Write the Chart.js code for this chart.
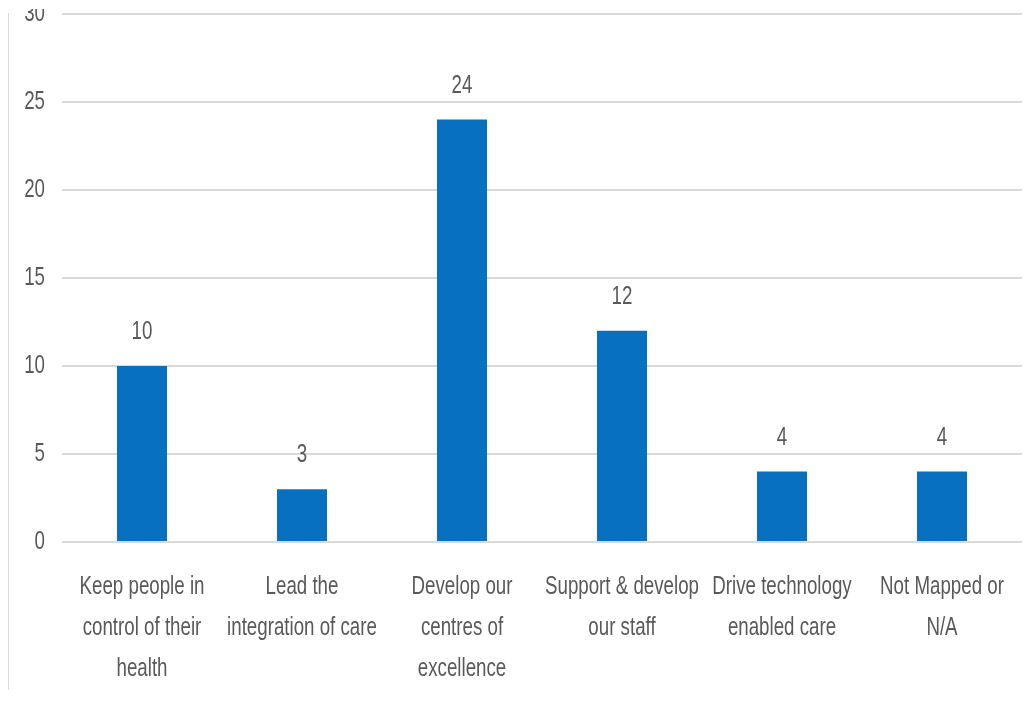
<!DOCTYPE html>
<html>
<head>
<meta charset="utf-8">
<script src="https://cdn.jsdelivr.net/npm/chart.js@4/dist/chart.umd.min.js"></script>
<style>
  html, body { margin: 0; padding: 0; background: #fff; overflow: hidden; }
  #frame { position: absolute; left: 8px; top: 13px; width: 1px; height: 677px; background: #d9d9d9; }
  #plot { position: absolute; left: 0; top: -20px; }
  #topband { position: absolute; left: 0; top: 0; width: 1035px; height: 9px; background: #fff; }
</style>
</head>
<body>
<div id="frame"></div>
<canvas id="plot" width="1035" height="730"></canvas>
<div id="topband"></div>
<script>
const categories = [
  ['Keep people in', 'control of their', 'health'],
  ['Lead the', 'integration of care'],
  ['Develop our', 'centres of', 'excellence'],
  ['Support & develop', 'our staff'],
  ['Drive technology', 'enabled care'],
  ['Not Mapped or', 'N/A']
];
const counts = [10, 3, 24, 12, 4, 4];
const yTicks = [0, 5, 10, 15, 20, 25, 30];

const FONT = "'Liberation Sans', Arial, sans-serif";
const GREY = '#595959';
const SQUEEZE = 0.72;   // condensed look for every label

function narrowText(ctx, text, x, y, align) {
  ctx.save();
  ctx.translate(x, y);
  ctx.scale(SQUEEZE, 1);
  ctx.textAlign = align;
  ctx.fillText(text, 0, 0);
  ctx.restore();
}

// axis labels and value labels, drawn condensed
const narrowLabels = {
  id: 'narrowLabels',
  afterDraw(chart) {
    const { ctx, scales: { x, y } } = chart;
    ctx.save();
    ctx.font = `26px ${FONT}`;
    ctx.fillStyle = GREY;
    ctx.textBaseline = 'middle';

    yTicks.forEach(v => {
      narrowText(ctx, String(v), 45, y.getPixelForValue(v), 'right');
    });

    categories.forEach((lines, i) => {
      const cx = x.getPixelForValue(i);
      lines.forEach((line, k) => {
        narrowText(ctx, line, cx, y.bottom + 45 + k * 41, 'center');
      });
    });

    chart.getDatasetMeta(0).data.forEach((bar, i) => {
      narrowText(ctx, String(counts[i]), bar.x, bar.y - 34, 'center');
    });
    ctx.restore();
  }
};

new Chart(document.getElementById('plot').getContext('2d'), {
  type: 'bar',
  data: {
    labels: categories,
    datasets: [{
      data: counts,
      backgroundColor: '#0870c1',
      borderWidth: 0,
      barPercentage: 0.625,
      categoryPercentage: 0.5
    }]
  },
  options: {
    responsive: false,
    animation: false,
    layout: { padding: { top: 34, right: 13, left: 0, bottom: 0 } },
    plugins: { legend: { display: false }, tooltip: { enabled: false } },
    scales: {
      x: {
        grid: { display: false, drawTicks: false },
        border: { display: false },
        ticks: { display: false },
        afterFit(scale) { scale.height = 168; }
      },
      y: {
        min: 0,
        max: 30,
        afterBuildTicks(scale) { scale.ticks = yTicks.map(v => ({ value: v })); },
        grid: { color: '#d9d9d9', lineWidth: 2, drawTicks: false },
        border: { display: false },
        ticks: { display: false },
        afterFit(scale) { scale.width = 62; }
      }
    }
  },
  plugins: [narrowLabels]
});
</script>
</body>
</html>
